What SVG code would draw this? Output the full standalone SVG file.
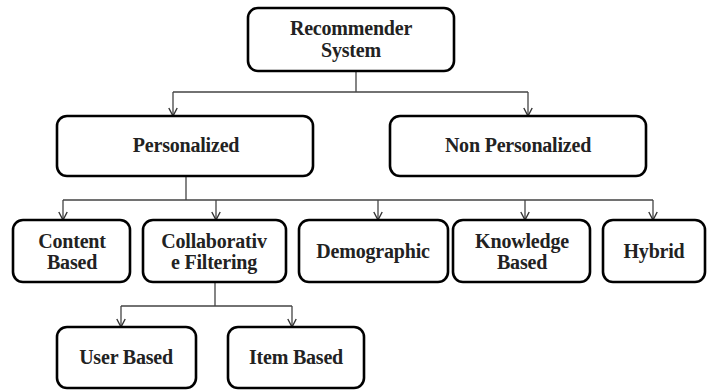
<svg xmlns="http://www.w3.org/2000/svg" width="713" height="390" viewBox="0 0 713 390">
<defs>
<marker id="arr" viewBox="0 0 12 12" refX="11" refY="6" markerWidth="12" markerHeight="12" markerUnits="userSpaceOnUse" orient="auto">
<path d="M3,1.8 L11,6 L3,10.2" fill="none" stroke="#333" stroke-width="1.4"/>
</marker>
</defs>
<style>
.box{fill:#fff;stroke:#000;stroke-width:2.6}
text{font-family:'Liberation Serif','Times New Roman',Times,serif;font-weight:bold;font-size:20px;fill:#222;text-anchor:middle;letter-spacing:-0.2px}
.c{fill:none;stroke:#444;stroke-width:1.3}
</style>
<rect width="713" height="390" fill="#fff"/>
<g id="connectors">
<path class="c" d="M356,71 V92 M173,92 H528"/>
<path class="c" d="M173,92 V116" marker-end="url(#arr)"/>
<path class="c" d="M528,92 V116" marker-end="url(#arr)"/>
<path class="c" d="M186,176 V200 M63,200 H653"/>
<path class="c" d="M63,200 V220" marker-end="url(#arr)"/>
<path class="c" d="M216,200 V220" marker-end="url(#arr)"/>
<path class="c" d="M378,200 V220" marker-end="url(#arr)"/>
<path class="c" d="M525,200 V220" marker-end="url(#arr)"/>
<path class="c" d="M653,200 V220" marker-end="url(#arr)"/>
<path class="c" d="M215,282 V306 M121,306 H292"/>
<path class="c" d="M121,306 V327" marker-end="url(#arr)"/>
<path class="c" d="M292,306 V327" marker-end="url(#arr)"/>
</g>
<g id="recommender-system">
<rect class="box" x="248" y="8" width="206" height="63" rx="10"/>
<text x="351" y="35">Recommender</text>
<text x="351" y="57">System</text>
</g>
<g id="personalized">
<rect class="box" x="57" y="116" width="256" height="60" rx="10"/>
<text x="186" y="152">Personalized</text>
</g>
<g id="non-personalized">
<rect class="box" x="390" y="116" width="256" height="60" rx="10"/>
<text x="518" y="152">Non Personalized</text>
</g>
<g id="content-based">
<rect class="box" x="13" y="220" width="117" height="62" rx="10"/>
<text x="72" y="248">Content</text>
<text x="72" y="269">Based</text>
</g>
<g id="collaborative-filtering">
<rect class="box" x="143" y="220" width="143" height="62" rx="10"/>
<text x="214" y="248">Collaborativ</text>
<text x="214" y="269">e Filtering</text>
</g>
<g id="demographic">
<rect class="box" x="299" y="220" width="149" height="62" rx="10"/>
<text x="373" y="258">Demographic</text>
</g>
<g id="knowledge-based">
<rect class="box" x="453" y="220" width="137" height="62" rx="10"/>
<text x="522" y="248">Knowledge</text>
<text x="522" y="269">Based</text>
</g>
<g id="hybrid">
<rect class="box" x="603" y="220" width="102" height="62" rx="10"/>
<text x="654" y="258">Hybrid</text>
</g>
<g id="user-based">
<rect class="box" x="57" y="327" width="139" height="61" rx="10"/>
<text x="126" y="364">User Based</text>
</g>
<g id="item-based">
<rect class="box" x="228" y="327" width="136" height="61" rx="10"/>
<text x="296" y="364">Item Based</text>
</g>
</svg>
